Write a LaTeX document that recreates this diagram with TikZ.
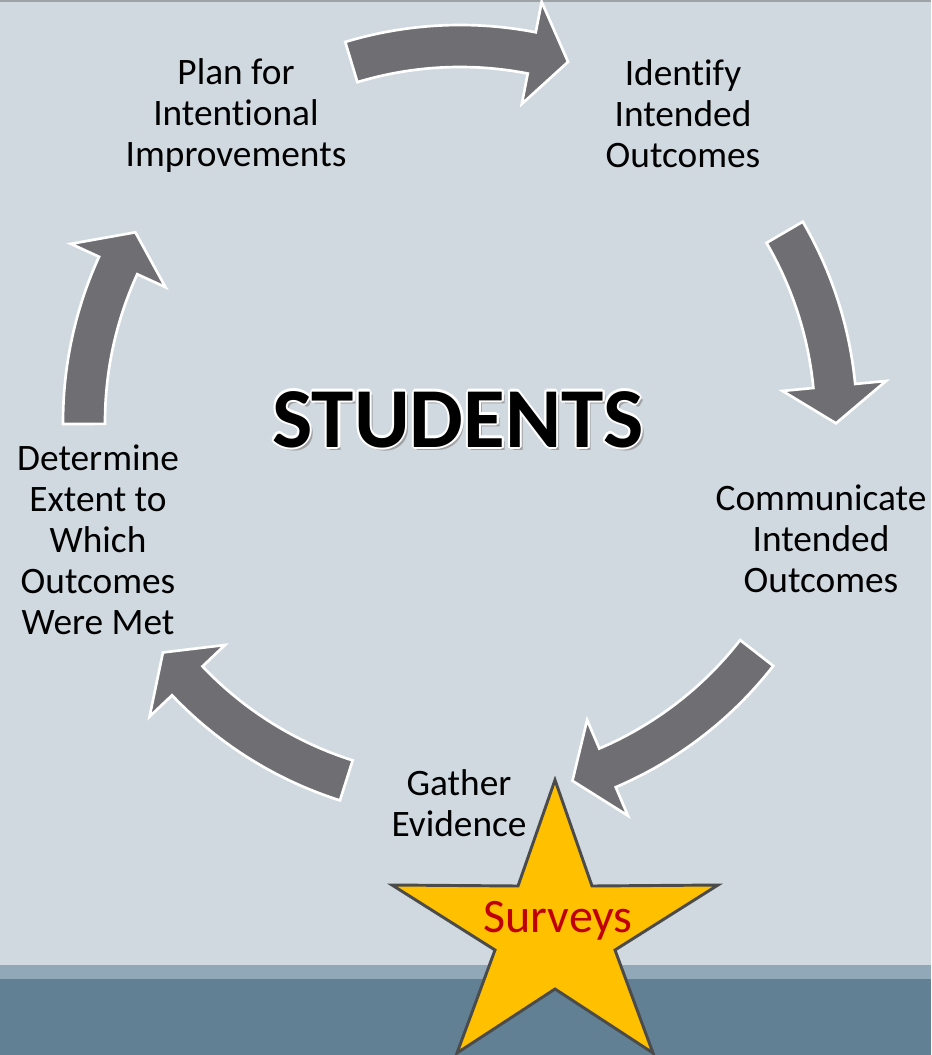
\documentclass[tikz,border=0pt]{standalone}
\usepackage{fontspec}
\setmainfont{Carlito}[Ligatures=NoCommon]
\definecolor{slide}{RGB}{209,217,224}
\definecolor{rule}{RGB}{158,163,168}
\definecolor{bandlight}{RGB}{145,168,184}
\definecolor{banddark}{RGB}{97,128,148}
\definecolor{arrowgray}{RGB}{110,110,115}
\definecolor{staryellow}{RGB}{255,192,0}
\definecolor{starline}{RGB}{75,75,75}
\definecolor{surveyred}{RGB}{192,0,0}
\tikzset{
x=0.75pt, y=0.75pt, % one unit is one pixel of the slide
stage/.style={align=center, inner sep=0pt, font=\fontsize{28}{30.75}\selectfont}, % the five steps of the cycle
cycle arrow/.style={fill=arrowgray, draw=white, line width=2pt, line join=miter}, % curved block arrows
title/.style={inner sep=0pt, anchor=base, font=\fontsize{64}{70}\selectfont\bfseries},
}
% block arrow along the ring: tail angle, head base angle, tip angle
\newcommand\cyclearrow[3]{%
  \draw[cycle arrow] (#1:397) arc[start angle=#1, end angle=#2, radius=397]
    -- (#2:428) -- (#3:376) -- (#2:324) -- (#2:355)
    arc[start angle=#2, end angle=#1, radius=355] -- cycle;}

\begin{document}
\begin{tikzpicture}
    \useasboundingbox (0,0) rectangle (931,-1055);
    \fill[slide] (0,0) rectangle (931,-1055);
    \fill[rule] (0,0) rectangle (931,-2);
    \fill[bandlight] (0,-965) rectangle (931,-1055);
    \fill[banddark] (0,-979) rectangle (931,-1055);

    \begin{scope}[shift={(460,-422)}]
    \cyclearrow{106.8}{79.0}{73.3}
    \cyclearrow{30.3}{5.5}{-0.2}
    \cyclearrow{-37.9}{-66.9}{-72.6}
    \cyclearrow{-107.6}{-136.5}{-142.2}
    \cyclearrow{180.3}{155.4}{149.7}
    \end{scope}

    \node[stage] (plan) at (236,-116) {Plan for\\Intentional\\Improvements};
    \node[stage] (identify) at (683,-114) {Identify\\Intended\\Outcomes};
    \node[stage] (communicate) at (821,-539) {Communicate\\Intended\\Outcomes};
    \node[stage] (gather) at (459,-803) {Gather\\Evidence};
    \node[stage] (determine) at (98,-540) {Determine\\Extent to\\Which\\Outcomes\\Were Met};

    % shadow, white rim, then the word itself
    \node[title, text=black!45, opacity=.7] (shadow) at (461,-450) {STUDENTS};
    \foreach \a in {0,45,...,315}
        \node[title, text=white] (rim\a) at ([shift={(\a:2.2)}]458,-447) {STUDENTS};
    \node[title, text=black] (students) at (458,-447) {STUDENTS};

    \filldraw[fill=staryellow, draw=starline, line width=2.2pt, line join=miter]
    (555,-780) -- (592,-886) -- (718,-885) -- (615,-950) -- (653,-1053)
    -- (555,-989) -- (457,-1053) -- (495,-950) -- (392,-885) -- (518,-886) -- cycle;
    \node[inner sep=0pt, anchor=base, text=surveyred, font=\fontsize{36}{40}\selectfont] (surveys) at (558,-932) {Surveys};
\end{tikzpicture}
\end{document}
